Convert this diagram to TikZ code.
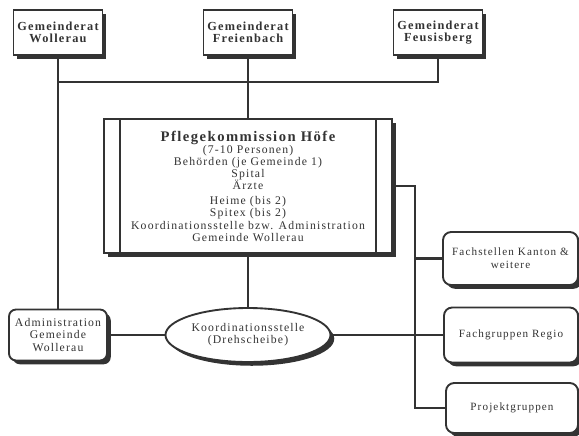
\documentclass[tikz,border=0pt]{standalone}
\usepackage{fontspec}
\setmainfont{Liberation Serif}[LetterSpace=10]
\usetikzlibrary{shapes.geometric,shadows}
\definecolor{ink}{HTML}{333333}
\begin{document}
\begin{tikzpicture}[
  x=0.03cm, y=-0.03cm,
  every node/.style={align=center, text=ink, font=\fontsize{9.5}{11}\selectfont},
  shade/.style={drop shadow={shadow xshift=3.2pt, shadow yshift=-3.2pt, fill=ink, opacity=1}},
  rat/.style={draw=ink, line width=1.6pt, fill=white, shade, minimum width=2.64cm, minimum height=1.35cm, font=\fontsize{10.5}{10.5}\selectfont\bfseries},
  board/.style={draw=ink, line width=1.6pt, fill=white, shade, minimum width=8.64cm, minimum height=4.02cm, font=\fontsize{10}{10.3}\selectfont},
  unit/.style={draw=ink, line width=1.6pt, fill=white, shade, rounded corners=7pt, minimum height=1.55cm},
  hub/.style={ellipse, draw=ink, line width=1.6pt, fill=white, shade, inner sep=0pt, minimum width=4.95cm, minimum height=1.62cm, font=\fontsize{10}{10}\selectfont},
  link/.style={draw=ink, line width=1.8pt}
]
\useasboundingbox (0,0) rectangle (579,435);
% Gemeinden
\node[rat] (wol) at (58,32.5) {Gemeinderat\\Wollerau};
\node[rat] (frei) at (248,32.5) {Gemeinderat\\Freienbach};
\node[rat] (feu) at (438,32.5) {Gemeinderat\\Feusisberg};
\coordinate (bus) at (58,82);
% Kommission
\node[board] (pfl) at (248,186) {{\fontsize{12.5}{12.5}\selectfont\bfseries Pflegekommission Höfe}\\(7-10 Personen)\\Behörden (je Gemeinde 1)\\Spital\\Ärzte\\[3pt]Heime (bis 2)\\Spitex (bis 2)\\Koordinationsstelle bzw. Administration\\Gemeinde Wollerau};
\draw[ink, line width=1.6pt] ([xshift=0.51cm]pfl.north west) -- ([xshift=0.51cm]pfl.south west);
\draw[ink, line width=1.6pt] ([xshift=-0.51cm]pfl.north east) -- ([xshift=-0.51cm]pfl.south east);
% untere Ebene
\node[unit, minimum width=2.94cm, rounded corners=6pt, minimum height=1.53cm, font=\fontsize{10}{10.5}\selectfont] (adm) at (58,335) {Administration\\Gemeinde\\Wollerau};
\node[hub] (koo) at (248,335) {Koordinationsstelle\\(Drehscheibe)};
\node[unit, minimum width=4.05cm, minimum height=1.59cm] (fach) at (510.5,258.5) {Fachstellen Kanton \&\\weitere};
\node[unit, minimum width=4.02cm, minimum height=1.65cm] (grp) at (511,335) {Fachgruppen Regio};
\node[unit, minimum width=3.96cm, minimum height=1.5cm] (proj) at (512,408) {Projektgruppen};
\coordinate (spine) at (415,408);
% Verbindungen
\draw[link] (feu.south) |- (bus);
\draw[link] (wol.south) -- (adm.north);
\draw[link] (frei.south) -- (pfl.north);
\draw[link] (pfl.south) -- (koo.north);
\draw[link] (adm.east) -- (koo.west);
\draw[link] (koo.east) -- (grp.west);
\draw[link] (pfl.east) -| (spine) -- (proj.west);
\draw[link] (spine |- fach.west) -- (fach.west);
\end{tikzpicture}
\end{document}
